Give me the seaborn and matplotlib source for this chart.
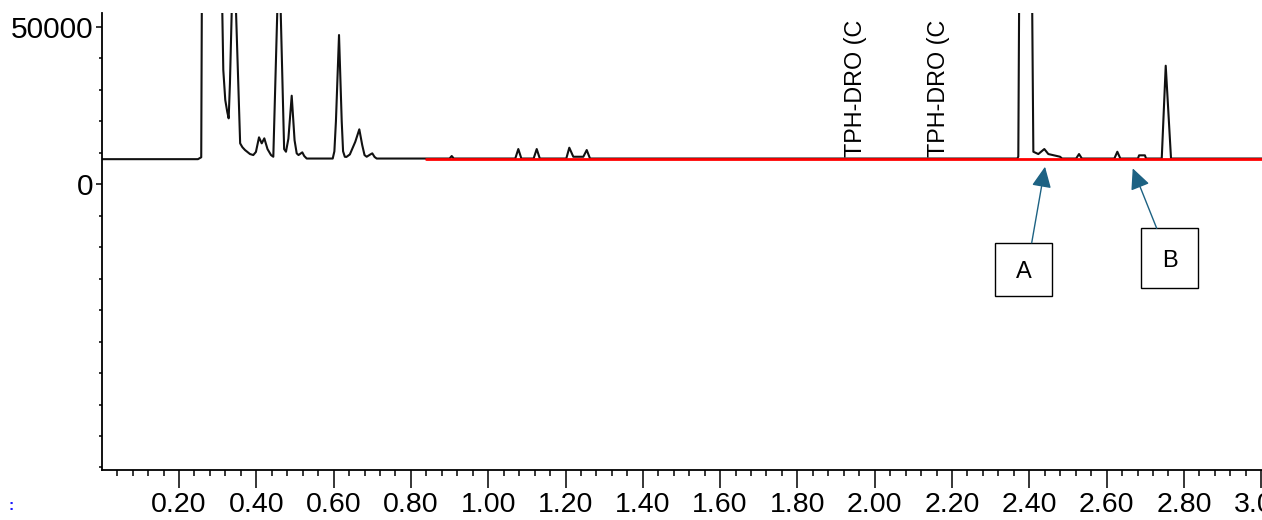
import matplotlib
matplotlib.use("Agg")
import matplotlib.pyplot as plt
from matplotlib.patches import Rectangle
from matplotlib.ticker import FixedLocator
import seaborn as sns
import pandas as pd

# Retention time (min) and detector signal (counts) of the chromatogram trace.
# Values above the frame are off-scale solvent / major peaks.
time_min = [
    0.000, 0.249, 0.2575, 0.2590, 0.2850, 0.3120, 0.3146, 0.3197, 0.3249, 0.3285,
    0.3318, 0.3364, 0.3420, 0.3475, 0.3582, 0.3640, 0.3708, 0.3837, 0.3922, 0.3990,
    0.4070, 0.4140, 0.4207, 0.4290, 0.4380, 0.4440, 0.4543, 0.4587, 0.4631, 0.4720,
    0.4768, 0.4830, 0.4916, 0.4990, 0.5045, 0.5092, 0.5190, 0.5240, 0.5304, 0.5977,
    0.6020, 0.6060, 0.6140, 0.6210, 0.6245, 0.6290, 0.6330, 0.6420, 0.6560, 0.6665,
    0.6740, 0.6800, 0.6856, 0.6950, 0.7001, 0.7060, 0.7115, 0.9000, 0.9056, 0.9110,
    1.0700, 1.0779, 1.0858, 1.1175, 1.1255, 1.1335, 1.2020, 1.2098, 1.2202, 1.2461,
    1.2549, 1.2634, 2.3690, 2.3715, 2.3735, 2.3890, 2.4075, 2.4104, 2.4233, 2.4388,
    2.4492, 2.4795, 2.4847, 2.5210, 2.5286, 2.5360, 2.6200, 2.6277, 2.6355, 2.6810,
    2.6840, 2.6990, 2.7020, 2.7426, 2.7529, 2.7666, 3.002,
]
signal = [
    8000, 8000, 8600, 55000, 300000, 55000, 36340, 26800, 22990, 20980,
    32110, 55000, 150000, 55000, 13030, 11800, 10900, 9630, 9310, 10300,
    14940, 13030, 14620, 11200, 9310, 8770, 55000, 120000, 55000, 11200,
    10360, 14500, 28170, 14000, 9850, 9310, 10170, 9000, 8200, 8200,
    10500, 20000, 47460, 20000, 10500, 8770, 8700, 9500, 13500, 17480,
    12500, 9300, 8770, 9500, 9850, 8700, 8200, 8200, 9000, 8200,
    8200, 11220, 8200, 8200, 11220, 8200, 8200, 11640, 8770, 8770,
    10900, 8200, 8200, 8800, 55000, 900000, 55000, 10360, 9630, 11220,
    9630, 8770, 8200, 8200, 9630, 8200, 8200, 10360, 8200, 8200,
    9220, 9220, 8200, 8200, 37700, 8200, 8200,
]

# Integration baseline (red)
baseline_time = [0.839, 3.002]
baseline_signal = [8200, 8200]

# Compound window labels
window_labels = ["TPH-DRO (C", "TPH-DRO (C"]
window_times = [1.949, 2.164]
window_label_y = 8700

# Axis ticks
xtick_pos = [0.2, 0.4, 0.6, 0.8, 1.0, 1.2, 1.4, 1.6, 1.8, 2.0, 2.2, 2.4, 2.6, 2.8, 3.0]
xtick_labels = ["0.20", "0.40", "0.60", "0.80", "1.00", "1.20", "1.40", "1.60",
                "1.80", "2.00", "2.20", "2.40", "2.60", "2.80", "3.00"]
ytick_pos = [0, 50000]
ytick_labels = ["0", "50000"]

# Callout boxes: label, box (x0, x1, y_bottom, y_top), arrow start, arrow tip
callouts = [
    ("A", (2.3113, 2.4580, -35510, -18570), (2.4062, -18570), (2.4406, 5600)),
    ("B", (2.6890, 2.8372, -33060, -13990), (2.7296, -13990), (2.6675, 5090)),
]

sns.set_style("ticks")
plt.rcParams["font.family"] = ["Liberation Sans", "DejaVu Sans"]
plt.rcParams["text.color"] = "black"
plt.rcParams["xtick.color"] = "black"
plt.rcParams["ytick.color"] = "black"
plt.rcParams["axes.edgecolor"] = "black"

fig = plt.figure(figsize=(12.62, 5.20), dpi=100)
ax = fig.add_axes([101.7 / 1262, 50 / 520, (1262 - 101.7) / 1262, 457 / 520])

trace = pd.DataFrame({"time": time_min, "signal": signal})
sns.lineplot(data=trace, x="time", y="signal", ax=ax, color="#111111",
             linewidth=1.5, estimator=None, sort=False, zorder=2)
sns.lineplot(x=baseline_time, y=baseline_signal, ax=ax, color="#ff0000",
             linewidth=2.0, estimator=None, sort=False, zorder=3)

for t, lab in zip(window_times, window_labels):
    ax.text(t, window_label_y, lab, rotation=90, ha="center", va="bottom",
            fontsize=16.8, color="black", zorder=4)

arrow_color = "#1d6283"
for lab, (x0, x1, yb, yt), start, tip in callouts:
    ax.add_patch(Rectangle((x0, yb), x1 - x0, yt - yb, facecolor="white",
                           edgecolor="black", linewidth=1.0, zorder=5))
    ax.text((x0 + x1) / 2, (yb + yt) / 2 - 800, lab, ha="center", va="center",
            fontsize=17, color="black", zorder=6)
    ax.annotate("", xy=tip, xytext=start,
                arrowprops=dict(arrowstyle="-|>,head_length=0.85,head_width=0.4",
                                color=arrow_color, lw=1.0, mutation_scale=15,
                                shrinkA=0, shrinkB=0),
                zorder=6)

ax.set_xlim(0, 3.002)
ax.set_ylim(-90800, 54460)

ax.set_xticks(xtick_pos)
ax.set_xticklabels(xtick_labels)
ax.xaxis.set_minor_locator(FixedLocator([i * 0.04 for i in range(1, 76)]))
ax.set_yticks(ytick_pos)
ax.set_yticklabels(ytick_labels)
ax.yaxis.set_minor_locator(FixedLocator([i * 10000 for i in range(-9, 6)]))

ax.tick_params(axis="x", which="major", length=13, width=1.1, labelsize=20.5,
               pad=3, direction="out", color="black", labelcolor="black")
ax.tick_params(axis="x", which="minor", length=4.5, width=1.1, direction="out",
               color="black")
ax.tick_params(axis="y", which="major", length=4, width=1.1, labelsize=21.5,
               pad=2, direction="out", color="black", labelcolor="black")
ax.tick_params(axis="y", which="minor", length=2.5, width=1.1, direction="out",
               color="black")

ax.set_xlabel("")
ax.set_ylabel("")
for side in ("top", "right"):
    ax.spines[side].set_visible(False)
for side in ("left", "bottom"):
    ax.spines[side].set_color("black")
    ax.spines[side].set_linewidth(1.3)

fig.text(11 / 1262, 1 - 506 / 520, ":", color="#1a1aff", fontsize=11,
         fontweight="bold", ha="center", va="center")

fig.savefig("out.png", dpi=100)
